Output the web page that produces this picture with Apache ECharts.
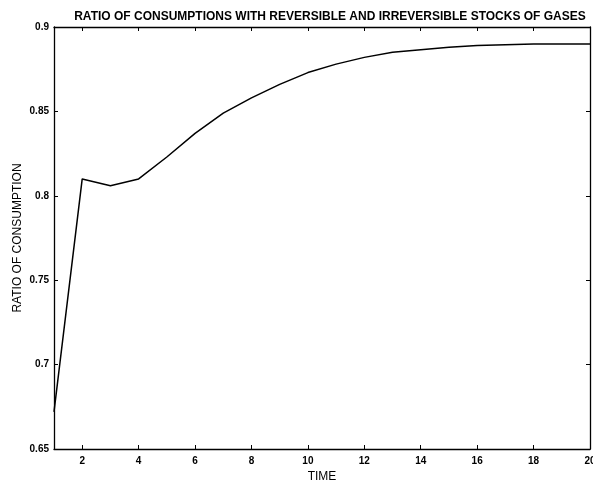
<!DOCTYPE html>
<html>
<head>
<meta charset="utf-8">
<script src="https://cdn.jsdelivr.net/npm/echarts@6/dist/echarts.min.js"></script>
<style>
  html, body { margin: 0; padding: 0; background: #fff; }
  #chart { width: 593px; height: 483px; }
</style>
</head>
<body>
<div id="chart"></div>
<script>
// values
const time = [1, 2, 3, 4, 5, 6, 7, 8, 9, 10, 11, 12, 13, 14, 15, 16, 17, 18, 19, 20];
const ratio = [
  0.672, 0.81, 0.806, 0.81, 0.823, 0.837, 0.849, 0.858, 0.866, 0.873,
  0.878, 0.882, 0.885, 0.8865, 0.888, 0.889, 0.8895, 0.89, 0.89, 0.89,
];
const xTicks = [2, 4, 6, 8, 10, 12, 14, 16, 18, 20];
const yTicks = [0.65, 0.7, 0.75, 0.8, 0.85, 0.9];

const font = "Liberation Sans, Arial, sans-serif";

const chartDom = document.getElementById("chart");
const myChart = echarts.init(chartDom);

const boxLine = { show: true, lineStyle: { color: "#000", width: 1.3 } };
const tickIn = { show: true, inside: true, length: 4, lineStyle: { color: "#000", width: 1 } };

const option = {
  animation: false,
  title: {
    text: "RATIO OF CONSUMPTIONS WITH REVERSIBLE AND IRREVERSIBLE STOCKS OF GASES",
    left: 325,
    textAlign: "center",
    top: 6,
    textStyle: { fontFamily: font, fontSize: 12, fontWeight: "bold", color: "#000" },
  },
  grid: { left: 54, right: 3, top: 27, bottom: 34, outerBoundsMode: "none", containLabel: false },
  xAxis: [
    {
      type: "value",
      min: 1,
      max: 20,
      name: "TIME",
      nameLocation: "middle",
      nameGap: 22,
      nameMoveOverlap: false,
      nameTextStyle: { fontFamily: font, fontSize: 12, color: "#000" },
      axisLine: boxLine,
      axisTick: Object.assign({ customValues: xTicks }, tickIn),
      axisLabel: {
        customValues: xTicks,
        fontFamily: font,
        fontSize: 10,
        fontWeight: "bold",
        color: "#000",
        margin: 7,
      },
      splitLine: { show: false },
    },
    {
      type: "value",
      position: "top",
      min: 1,
      max: 20,
      axisLine: boxLine,
      axisTick: Object.assign({ customValues: xTicks }, tickIn),
      axisLabel: { show: false },
      splitLine: { show: false },
    },
  ],
  yAxis: [
    {
      type: "value",
      min: 0.65,
      max: 0.9,
      name: "RATIO OF CONSUMPTION",
      nameLocation: "middle",
      nameGap: 30,
      nameMoveOverlap: false,
      nameTextStyle: { fontFamily: font, fontSize: 12, color: "#000" },
      axisLine: boxLine,
      axisTick: Object.assign({ customValues: yTicks }, tickIn),
      axisLabel: {
        customValues: yTicks,
        fontFamily: font,
        fontSize: 10,
        fontWeight: "bold",
        color: "#000",
        margin: 5,
        formatter: (v) => String(parseFloat(v.toFixed(2))),
      },
      splitLine: { show: false },
    },
    {
      type: "value",
      position: "right",
      min: 0.65,
      max: 0.9,
      axisLine: boxLine,
      axisTick: Object.assign({ customValues: yTicks }, tickIn),
      axisLabel: { show: false },
      splitLine: { show: false },
    },
  ],
  series: [
    {
      type: "line",
      data: time.map((t, i) => [t, ratio[i]]),
      showSymbol: false,
      lineStyle: { color: "#000", width: 1.5 },
    },
  ],
};

myChart.setOption(option);
</script>
</body>
</html>
